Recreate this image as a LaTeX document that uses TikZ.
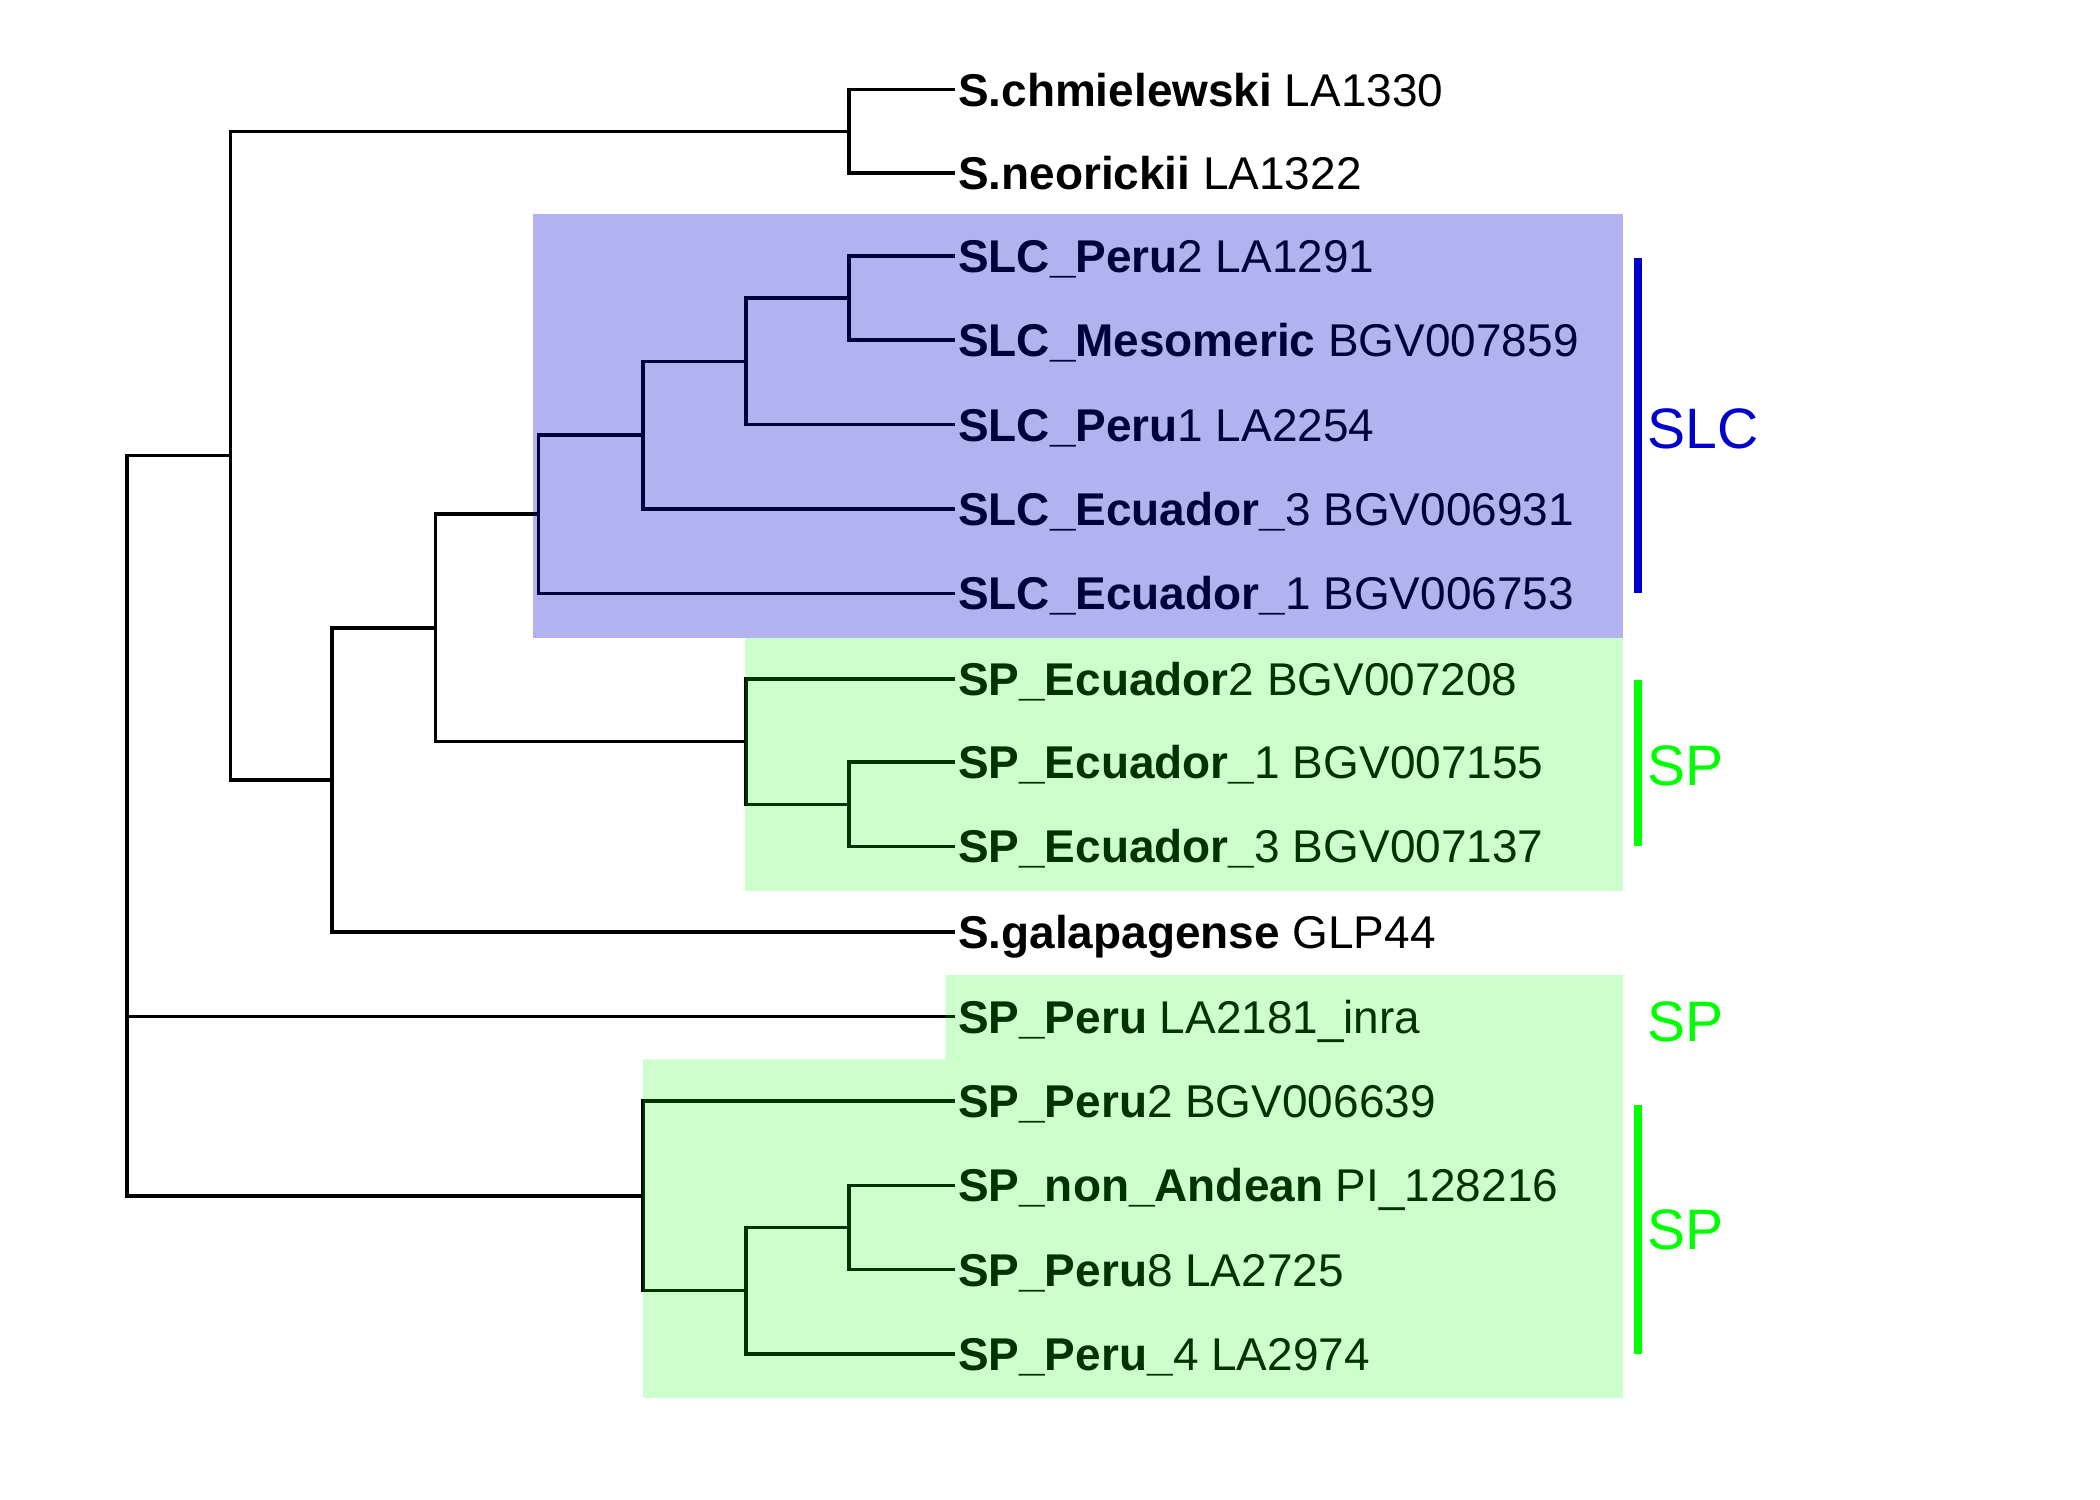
\documentclass[tikz,border=0pt]{standalone}
\usepackage{fontspec}
\setmainfont{Liberation Sans}
\usepackage{tikz}
\usetikzlibrary{positioning,calc}
\definecolor{slcblue}{RGB}{0,0,205}
\definecolor{spgreen}{RGB}{0,255,0}

\begin{document}
\begin{tikzpicture}[x=0.5pt, y=-0.5pt,
    branch/.style={line width=1.3pt, line cap=rect},
    leaf/.style={anchor=west, inner xsep=1.5pt, inner ysep=0pt, text height=12.3pt, text depth=0pt, font=\fontsize{17.15}{20}\selectfont},
    clade/.style={line width=2.8pt},
    cladelabel/.style={anchor=west, inner sep=0pt, font=\fontsize{21.3}{24}\selectfont},
    shade/.style={fill opacity=#1}
]
\useasboundingbox (0,0) rectangle (1568,1119.3);

% Leaves
\node[leaf] (chm)    at (712,67)   {\textbf{S.chmielewski} LA1330};
\node[leaf] (neo)    at (712,129)  {\textbf{S.neorickii} LA1322};
\node[leaf] (slcPa)  at (712,191)  {\textbf{SLC\_Peru}2 LA1291};
\node[leaf] (slcMes) at (712,254)  {\textbf{SLC\_Mesomeric} BGV007859};
\node[leaf] (slcPb)  at (712,317)  {\textbf{SLC\_Peru}1 LA2254};
\node[leaf] (slcEc)  at (712,380)  {\textbf{SLC\_Ecuador\_}3 BGV006931};
\node[leaf] (slcEa)  at (712,443)  {\textbf{SLC\_Ecuador\_}1 BGV006753};
\node[leaf] (spEb)   at (712,507)  {\textbf{SP\_Ecuador}2 BGV007208};
\node[leaf] (spEa)   at (712,569)  {\textbf{SP\_Ecuador\_}1 BGV007155};
\node[leaf] (spEc)   at (712,632)  {\textbf{SP\_Ecuador\_}3 BGV007137};
\node[leaf] (gal)    at (712,696)  {\textbf{S.galapagense} GLP44};
\node[leaf] (spPeru) at (712,759)  {\textbf{SP\_Peru} LA2181\_inra};
\node[leaf] (spPb)   at (712,822)  {\textbf{SP\_Peru}2 BGV006639};
\node[leaf] (spNA)   at (712,885)  {\textbf{SP\_non\_Andean} PI\_128216};
\node[leaf] (spPh)   at (712,948)  {\textbf{SP\_Peru}8 LA2725};
\node[leaf] (spPd)   at (712,1011) {\textbf{SP\_Peru\_}4 LA2974};

% Internal nodes
\coordinate (nChm)  at (634,98);
\coordinate (nSlcA) at (634,222.5);
\coordinate (nSlcB) at (557,269.75);
\coordinate (nSlcC) at (480,324.9);
\coordinate (nSlcD) at (402,383.9);
\coordinate (nSpA)  at (634,600.5);
\coordinate (nSpB)  at (557,553.75);
\coordinate (nMid)  at (325,468.8);
\coordinate (nGal)  at (248,582.4);
\coordinate (nTop)  at (172,340.2);
\coordinate (nBotA) at (634,916.5);
\coordinate (nBotB) at (557,963.75);
\coordinate (nBot)  at (480,892.9);
\coordinate (root)  at (95,616);

% Branches
\draw[branch] (nChm) |- (chm.west) (nChm) |- (neo.west);
\draw[branch] (nSlcA) |- (slcPa.west) (nSlcA) |- (slcMes.west);
\draw[branch] (nSlcB) |- (nSlcA) (nSlcB) |- (slcPb.west);
\draw[branch] (nSlcC) |- (nSlcB) (nSlcC) |- (slcEc.west);
\draw[branch] (nSlcD) |- (nSlcC) (nSlcD) |- (slcEa.west);
\draw[branch] (nSpA) |- (spEa.west) (nSpA) |- (spEc.west);
\draw[branch] (nSpB) |- (spEb.west) (nSpB) |- (nSpA);
\draw[branch] (nMid) |- (nSlcD) (nMid) |- (nSpB);
\draw[branch] (nGal) |- (nMid) (nGal) |- (gal.west);
\draw[branch] (nTop) |- (nChm) (nTop) |- (nGal);
\draw[branch] (nBotA) |- (spNA.west) (nBotA) |- (spPh.west);
\draw[branch] (nBotB) |- (nBotA) (nBotB) |- (spPd.west);
\draw[branch] (nBot) |- (spPb.west) (nBot) |- (nBotB);
\draw[branch] (root) |- (nTop) (root) |- (spPeru.west) (root) |- (nBot);

% Clade shading
\fill[slcblue, shade=0.3] (398,160) rectangle (1212,476);
\fill[spgreen, shade=0.2] (556,476) rectangle (1212,665);
\fill[spgreen, shade=0.2] (706,728) -- (1212,728) -- (1212,1044) -- (480,1044)
    -- (480,791) -- (706,791) -- cycle;

% Clade bars and labels
\draw[clade, slcblue] (1223,193) -- (1223,443);
\node[cladelabel, slcblue] (slcLab) at (1230,320) {SLC};
\draw[clade, spgreen] (1223,508) -- (1223,632);
\node[cladelabel, spgreen] (spLabA) at (1230,572) {SP};
\node[cladelabel, spgreen] (spLabB) at (1230,763) {SP};
\draw[clade, spgreen] (1223,825) -- (1223,1011);
\node[cladelabel, spgreen] (spLabC) at (1230,918) {SP};

\end{tikzpicture}
\end{document}
